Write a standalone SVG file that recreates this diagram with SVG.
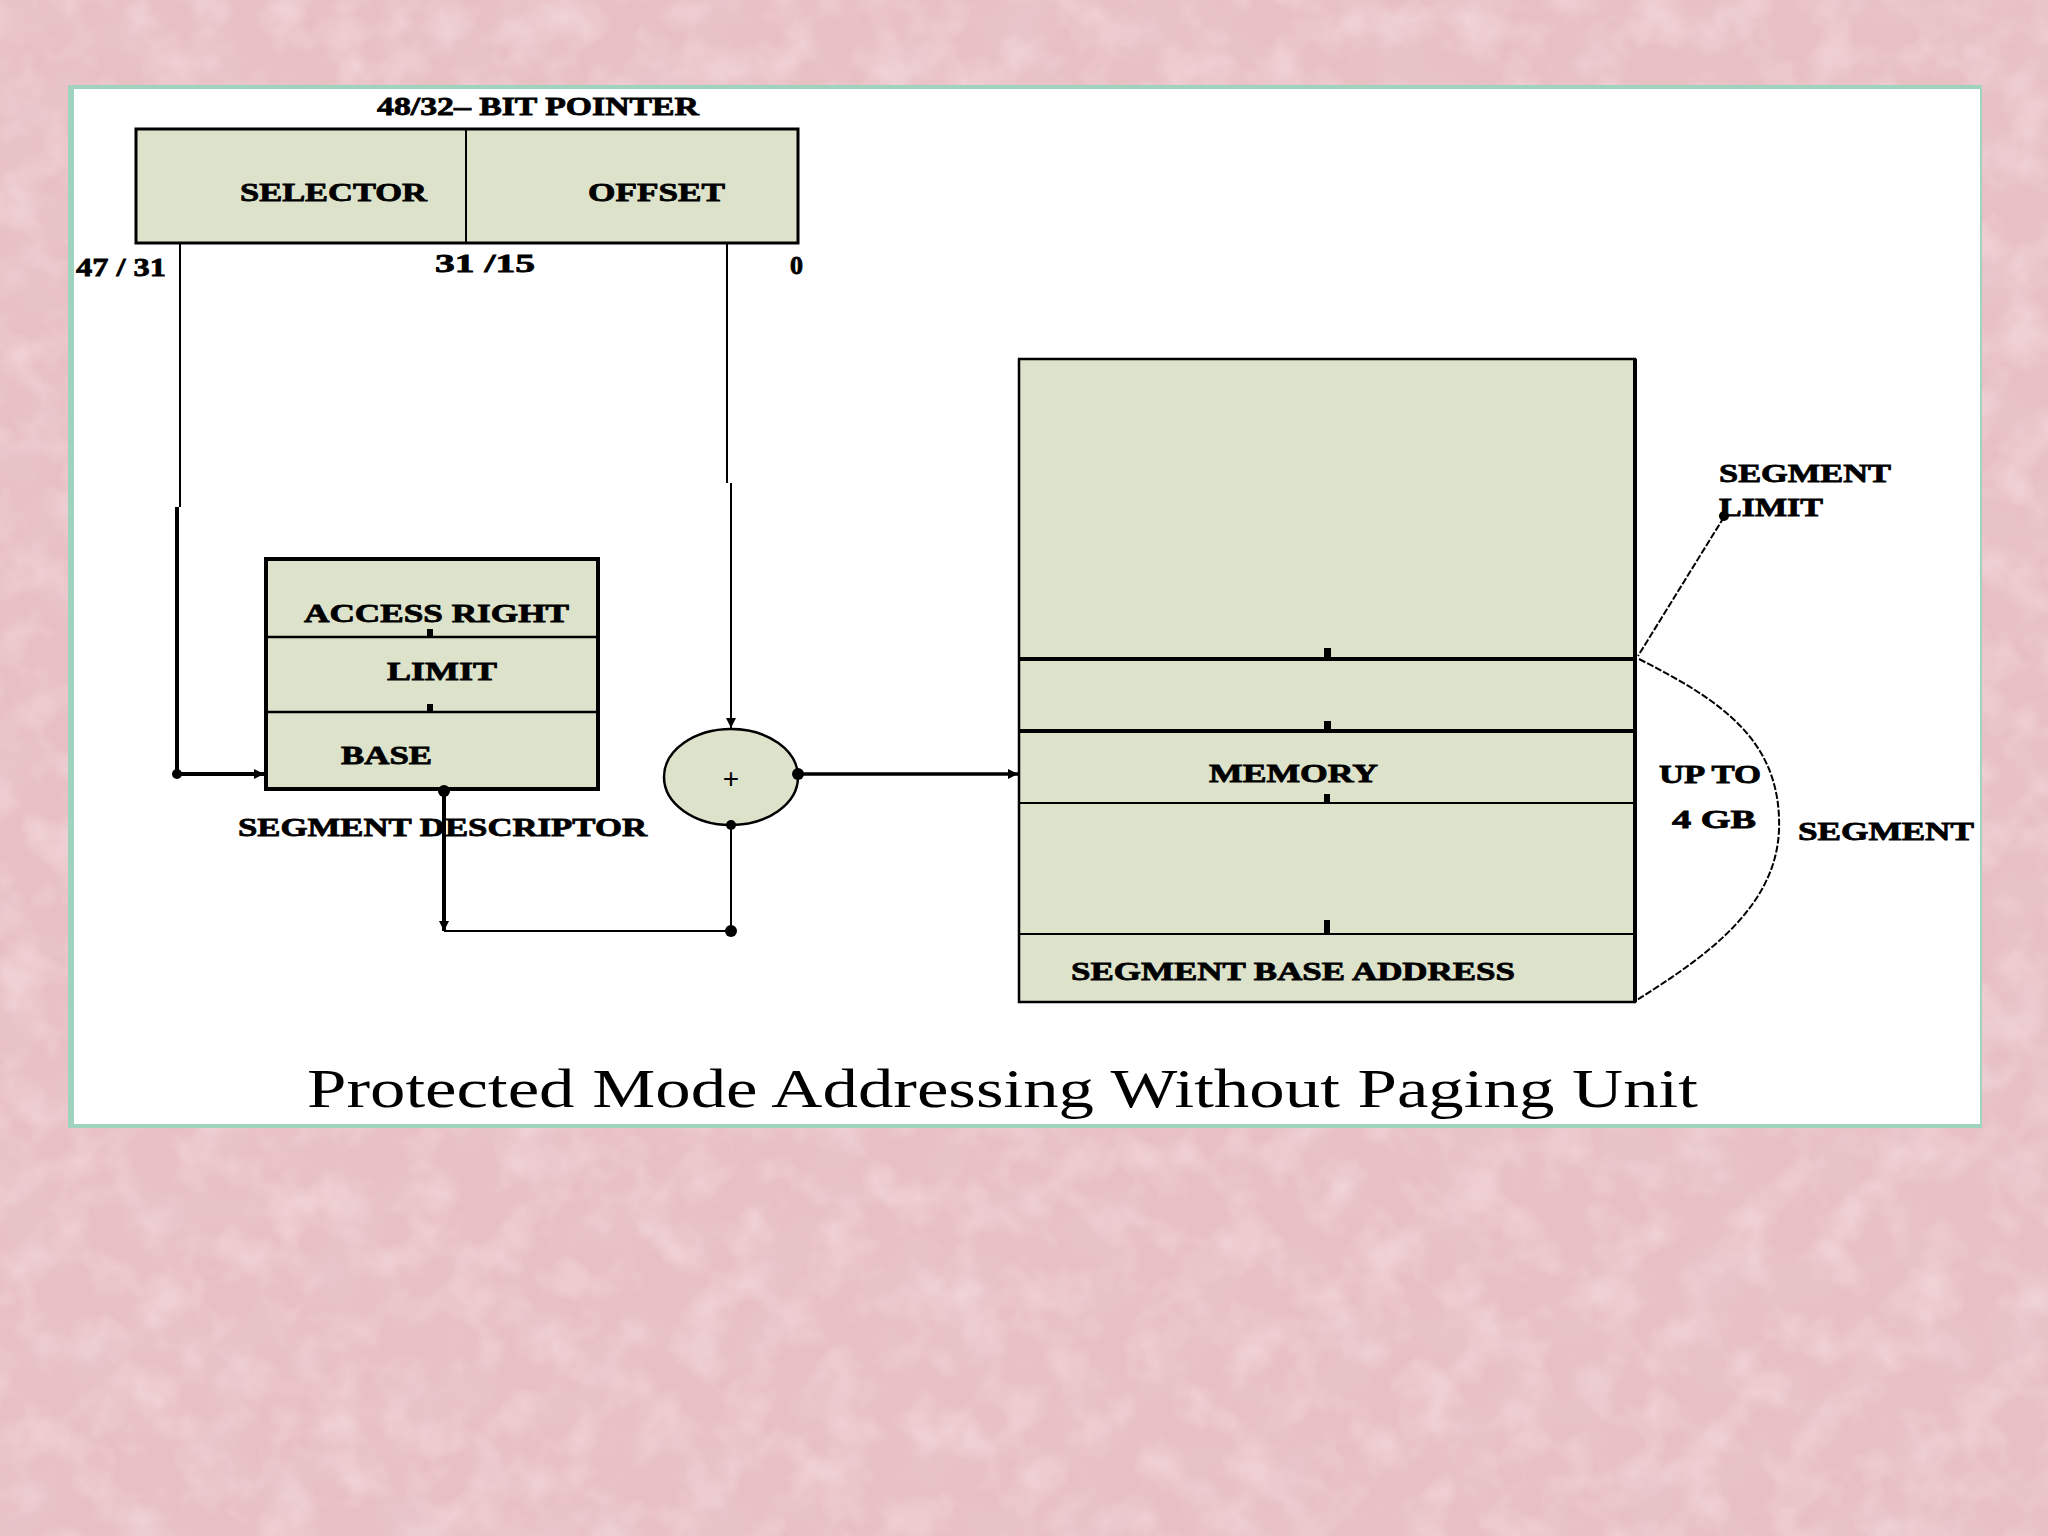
<svg xmlns="http://www.w3.org/2000/svg" width="2048" height="1536" viewBox="0 0 2048 1536">
  <defs>
    <style>
      .lbl { font-family: "Liberation Serif", "DejaVu Serif", serif; font-weight: bold; font-size: 26px; fill: #000; stroke: #000; stroke-width: 0.8px; }
      .box { fill: #dde2cb; stroke: #000; }
      .ln { fill: none; stroke: #000; stroke-linecap: butt; }
      .dot { fill: #000; }
      .title { font-family: "Liberation Serif", "DejaVu Serif", serif; font-size: 54px; fill: #000; }
    </style>
    <marker id="arr" viewBox="0 0 10 10" refX="10" refY="5" markerWidth="12" markerHeight="10" markerUnits="userSpaceOnUse" orient="auto">
      <path d="M0,0 L10,5 L0,10 Z" fill="#000"/>
    </marker>
    <filter id="texDark" x="0" y="0" width="100%" height="100%">
      <feTurbulence type="fractalNoise" baseFrequency="0.016" numOctaves="4" seed="7" result="n"/>
      <feColorMatrix in="n" type="matrix" values="0 0 0 0 0.80  0 0 0 0 0.58  0 0 0 0 0.62  2.4 0 0 0 -1.05"/>
    </filter>
    <filter id="texLight" x="0" y="0" width="100%" height="100%">
      <feTurbulence type="fractalNoise" baseFrequency="0.022" numOctaves="3" seed="21" result="n"/>
      <feColorMatrix in="n" type="matrix" values="0 0 0 0 0.97  0 0 0 0 0.85  0 0 0 0 0.87  2.4 0 0 0 -1.05"/>
    </filter>
  </defs>

  <!-- background -->
  <rect x="0" y="0" width="2048" height="1536" fill="#e8c0c4"/>
  <rect x="0" y="0" width="2048" height="1536" filter="url(#texDark)" opacity="0.55"/>
  <rect x="0" y="0" width="2048" height="1536" filter="url(#texLight)" opacity="0.4"/>

  <!-- panel -->
  <rect x="68" y="85" width="1914" height="1043" fill="#9fd3bd"/>
  <rect x="74" y="89" width="1906" height="1035" fill="#ffffff"/>

  <!-- pointer -->
  <g id="pointer">
    <text class="lbl" x="377" y="115" textLength="322" lengthAdjust="spacingAndGlyphs">48/32– BIT POINTER</text>
    <rect class="box" x="136" y="129" width="662" height="114" stroke-width="3"/>
    <line class="ln" x1="466" y1="129" x2="466" y2="243" stroke-width="2"/>
    <text class="lbl" x="240" y="201" textLength="187" lengthAdjust="spacingAndGlyphs">SELECTOR</text>
    <text class="lbl" x="588" y="201" textLength="137" lengthAdjust="spacingAndGlyphs">OFFSET</text>
    <text class="lbl" x="76" y="276" textLength="90" lengthAdjust="spacingAndGlyphs">47 / 31</text>
    <text class="lbl" x="435" y="272" textLength="100" lengthAdjust="spacingAndGlyphs">31  /15</text>
    <text class="lbl" x="790" y="274" textLength="13" lengthAdjust="spacingAndGlyphs">0</text>
  </g>

  <!-- segment descriptor -->
  <g id="descriptor">
    <rect class="box" x="266" y="559" width="332" height="230" stroke-width="4"/>
    <line class="ln" x1="268" y1="637" x2="596" y2="637" stroke-width="2.5"/>
    <line class="ln" x1="268" y1="712" x2="596" y2="712" stroke-width="2.5"/>
    <rect class="dot" x="427" y="629" width="6" height="8"/>
    <rect class="dot" x="427" y="704" width="6" height="8"/>
    <text class="lbl" x="304" y="622" textLength="265" lengthAdjust="spacingAndGlyphs">ACCESS RIGHT</text>
    <text class="lbl" x="387" y="680" textLength="110" lengthAdjust="spacingAndGlyphs">LIMIT</text>
    <text class="lbl" x="341" y="764" textLength="91" lengthAdjust="spacingAndGlyphs">BASE</text>
    <text class="lbl" x="238" y="836" textLength="409" lengthAdjust="spacingAndGlyphs">SEGMENT DESCRIPTOR</text>
  </g>

  <!-- adder -->
  <g id="adder">
    <ellipse class="box" cx="731" cy="777" rx="67" ry="48" stroke-width="2.5"/>
    <text x="731" y="788" text-anchor="middle" font-family="Liberation Sans, sans-serif" font-size="28" fill="#000">+</text>
  </g>

  <!-- memory -->
  <g id="memory">
    <rect class="box" x="1019" y="359" width="616" height="643" stroke-width="2.5"/>
    <line class="ln" x1="1635" y1="359" x2="1635" y2="1002" stroke-width="4"/>
    <line class="ln" x1="1019" y1="659" x2="1635" y2="659" stroke-width="4"/>
    <line class="ln" x1="1019" y1="731" x2="1635" y2="731" stroke-width="4"/>
    <line class="ln" x1="1019" y1="803" x2="1635" y2="803" stroke-width="2"/>
    <line class="ln" x1="1019" y1="934" x2="1635" y2="934" stroke-width="2"/>
    <rect class="dot" x="1324" y="648" width="7" height="10"/>
    <rect class="dot" x="1324" y="721" width="7" height="10"/>
    <rect class="dot" x="1324" y="794" width="6" height="9"/>
    <rect class="dot" x="1324" y="920" width="6" height="13"/>
    <text class="lbl" x="1209" y="782" textLength="169" lengthAdjust="spacingAndGlyphs">MEMORY</text>
    <text class="lbl" x="1071" y="980" textLength="444" lengthAdjust="spacingAndGlyphs" font-size="24">SEGMENT BASE ADDRESS</text>
  </g>

  <!-- side labels -->
  <g id="segment-limit">
    <text class="lbl" x="1719" y="482" textLength="172" lengthAdjust="spacingAndGlyphs">SEGMENT</text>
    <text class="lbl" x="1719" y="516" textLength="104" lengthAdjust="spacingAndGlyphs">LIMIT</text>
  </g>
  <g id="segment-size">
    <text class="lbl" x="1659" y="783" textLength="102" lengthAdjust="spacingAndGlyphs">UP TO</text>
    <text class="lbl" x="1672" y="828" textLength="84" lengthAdjust="spacingAndGlyphs">4  GB</text>
    <text class="lbl" x="1798" y="840" textLength="176" lengthAdjust="spacingAndGlyphs">SEGMENT</text>
  </g>

  <!-- connectors -->
  <g id="connectors">
    <path class="ln" d="M180,243 V507" stroke-width="2"/>
    <path class="ln" d="M177,507 V774 H264" stroke-width="4" marker-end="url(#arr)"/>
    <circle class="dot" cx="177" cy="774" r="5"/>

    <path class="ln" d="M727,243 V483" stroke-width="2"/>
    <path class="ln" d="M731,483 V728" stroke-width="2" marker-end="url(#arr)"/>

    <path class="ln" d="M444,789 V931" stroke-width="4" marker-end="url(#arr)"/>
    <circle class="dot" cx="444" cy="791" r="6"/>
    <path class="ln" d="M444,931 H731 V825" stroke-width="2"/>
    <circle class="dot" cx="731" cy="931" r="6"/>
    <circle class="dot" cx="731" cy="825" r="5"/>

    <path class="ln" d="M798,774 H1018" stroke-width="3.5" marker-end="url(#arr)"/>
    <circle class="dot" cx="798" cy="774" r="6"/>

    <path class="ln" d="M1724,517 L1638,656" stroke-width="2" stroke-dasharray="7 2"/>
    <circle class="dot" cx="1724" cy="516" r="5"/>
    <path class="ln" d="M1639,659 C1720,700 1782,740 1779,830 C1776,910 1700,960 1637,1000" stroke-width="2" stroke-dasharray="7 2"/>
  </g>

  <!-- title -->
  <text class="title" x="307" y="1107" textLength="1391" lengthAdjust="spacingAndGlyphs">Protected Mode Addressing Without Paging Unit</text>
</svg>
